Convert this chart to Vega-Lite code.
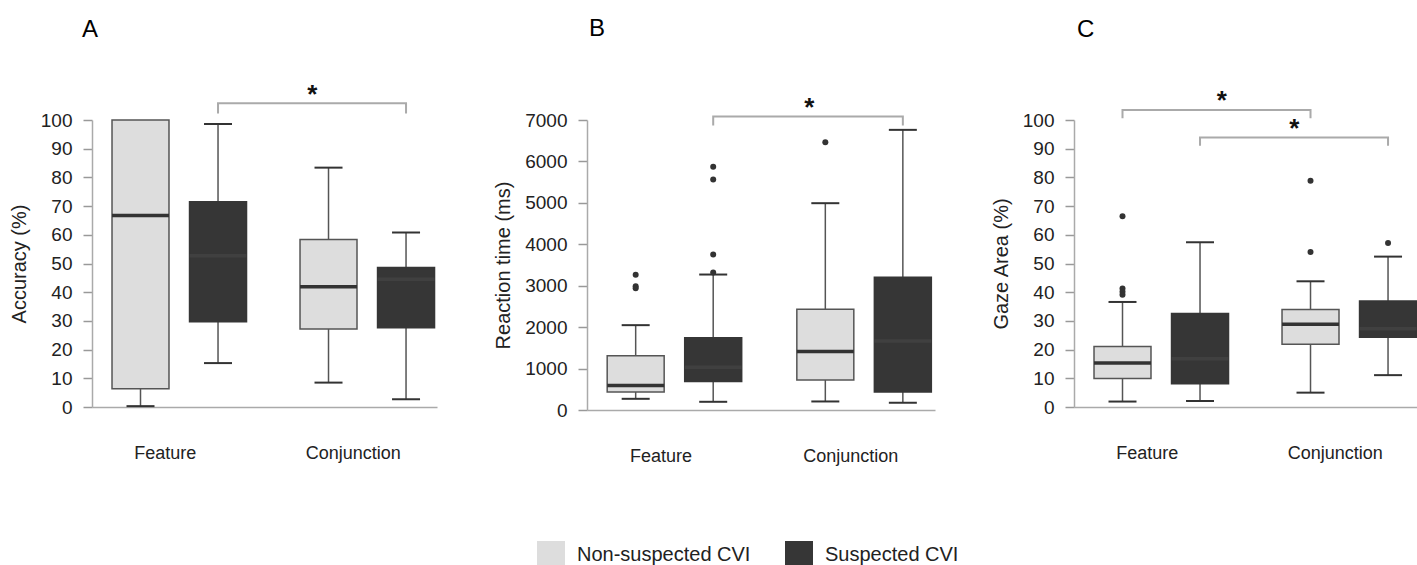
{
  "$schema": "https://vega.github.io/schema/vega-lite/v6.json",
  "padding": {"left": 9, "top": 17, "right": 0, "bottom": 0},
  "background": "white",
  "config": {
    "font": "Liberation Sans",
    "view": {"stroke": null},
    "axis": {"grid": false, "labelColor": "#222", "titleColor": "#222", "titleFontWeight": "normal", "domainColor": "#aaaaaa", "domainWidth": 1.5, "tickColor": "#999999", "tickWidth": 1.5},
    "axisY": {"tickSize": 9, "labelFontSize": 19, "titleFontSize": 20, "titlePadding": 11, "labelPadding": 11, "labelOverlap": false},
    "axisX": {"ticks": false, "labelFontSize": 18, "labelPadding": 37, "labelOffset": -14, "labelAngle": 0, "title": null},
    "title": {"anchor": "start", "frame": "group", "fontSize": 24, "fontWeight": "normal", "color": "#000"}
  },
  "datasets": {
    "boxes": [
      {"panel": "A", "condition": "Feature", "group": "Non-suspected CVI", "lower": 0.3, "q1": 6.4, "median": 66.7, "q3": 100, "upper": 100},
      {"panel": "A", "condition": "Feature", "group": "Suspected CVI", "lower": 15.3, "q1": 29.7, "median": 52.7, "q3": 71.5, "upper": 98.6},
      {"panel": "A", "condition": "Conjunction", "group": "Non-suspected CVI", "lower": 8.5, "q1": 27.2, "median": 41.9, "q3": 58.4, "upper": 83.4},
      {"panel": "A", "condition": "Conjunction", "group": "Suspected CVI", "lower": 2.7, "q1": 27.6, "median": 44.5, "q3": 48.6, "upper": 60.8},
      {"panel": "B", "condition": "Feature", "group": "Non-suspected CVI", "lower": 270, "q1": 437, "median": 590, "q3": 1310, "upper": 2048},
      {"panel": "B", "condition": "Feature", "group": "Suspected CVI", "lower": 198, "q1": 690, "median": 1032, "q3": 1746, "upper": 3270},
      {"panel": "B", "condition": "Conjunction", "group": "Non-suspected CVI", "lower": 206, "q1": 722, "median": 1413, "q3": 2429, "upper": 4992},
      {"panel": "B", "condition": "Conjunction", "group": "Suspected CVI", "lower": 175, "q1": 437, "median": 1667, "q3": 3206, "upper": 6762},
      {"panel": "C", "condition": "Feature", "group": "Non-suspected CVI", "lower": 1.9, "q1": 9.9, "median": 15.3, "q3": 21.1, "upper": 36.6},
      {"panel": "C", "condition": "Feature", "group": "Suspected CVI", "lower": 2.1, "q1": 8.1, "median": 16.8, "q3": 32.6, "upper": 57.4},
      {"panel": "C", "condition": "Conjunction", "group": "Non-suspected CVI", "lower": 5.0, "q1": 21.9, "median": 28.8, "q3": 34.0, "upper": 43.8},
      {"panel": "C", "condition": "Conjunction", "group": "Suspected CVI", "lower": 11.1, "q1": 24.3, "median": 27.3, "q3": 36.9, "upper": 52.4}
    ],
    "outliers": [
      {"panel": "B", "condition": "Feature", "group": "Non-suspected CVI", "value": 3262},
      {"panel": "B", "condition": "Feature", "group": "Non-suspected CVI", "value": 2990},
      {"panel": "B", "condition": "Feature", "group": "Non-suspected CVI", "value": 2940},
      {"panel": "B", "condition": "Feature", "group": "Suspected CVI", "value": 5873},
      {"panel": "B", "condition": "Feature", "group": "Suspected CVI", "value": 5563},
      {"panel": "B", "condition": "Feature", "group": "Suspected CVI", "value": 3754},
      {"panel": "B", "condition": "Feature", "group": "Suspected CVI", "value": 3317},
      {"panel": "B", "condition": "Conjunction", "group": "Non-suspected CVI", "value": 6460},
      {"panel": "C", "condition": "Feature", "group": "Non-suspected CVI", "value": 66.5},
      {"panel": "C", "condition": "Feature", "group": "Non-suspected CVI", "value": 41.3},
      {"panel": "C", "condition": "Feature", "group": "Non-suspected CVI", "value": 40.2},
      {"panel": "C", "condition": "Feature", "group": "Non-suspected CVI", "value": 39.1},
      {"panel": "C", "condition": "Conjunction", "group": "Non-suspected CVI", "value": 78.8},
      {"panel": "C", "condition": "Conjunction", "group": "Non-suspected CVI", "value": 54.0},
      {"panel": "C", "condition": "Conjunction", "group": "Suspected CVI", "value": 57.1}
    ],
    "brackets": [
      {"panel": "A", "id": "a1", "seq": 1, "condition": "Feature", "group": "Suspected CVI", "value": 102.3},
      {"panel": "A", "id": "a1", "seq": 2, "condition": "Feature", "group": "Suspected CVI", "value": 105.8},
      {"panel": "A", "id": "a1", "seq": 3, "condition": "Conjunction", "group": "Suspected CVI", "value": 105.8},
      {"panel": "A", "id": "a1", "seq": 4, "condition": "Conjunction", "group": "Suspected CVI", "value": 102.3},
      {"panel": "B", "id": "b1", "seq": 1, "condition": "Feature", "group": "Suspected CVI", "value": 6865},
      {"panel": "B", "id": "b1", "seq": 2, "condition": "Feature", "group": "Suspected CVI", "value": 7087},
      {"panel": "B", "id": "b1", "seq": 3, "condition": "Conjunction", "group": "Suspected CVI", "value": 7087},
      {"panel": "B", "id": "b1", "seq": 4, "condition": "Conjunction", "group": "Suspected CVI", "value": 6865},
      {"panel": "C", "id": "c1", "seq": 1, "condition": "Feature", "group": "Non-suspected CVI", "value": 100.6},
      {"panel": "C", "id": "c1", "seq": 2, "condition": "Feature", "group": "Non-suspected CVI", "value": 103.5},
      {"panel": "C", "id": "c1", "seq": 3, "condition": "Conjunction", "group": "Non-suspected CVI", "value": 103.5},
      {"panel": "C", "id": "c1", "seq": 4, "condition": "Conjunction", "group": "Non-suspected CVI", "value": 100.6},
      {"panel": "C", "id": "c2", "seq": 1, "condition": "Feature", "group": "Suspected CVI", "value": 91.0},
      {"panel": "C", "id": "c2", "seq": 2, "condition": "Feature", "group": "Suspected CVI", "value": 93.9},
      {"panel": "C", "id": "c2", "seq": 3, "condition": "Conjunction", "group": "Suspected CVI", "value": 93.9},
      {"panel": "C", "id": "c2", "seq": 4, "condition": "Conjunction", "group": "Suspected CVI", "value": 91.0}
    ],
    "stars": [
      {"panel": "A", "condition": "Feature", "group": "Suspected CVI", "value": 106.0, "label": "*"},
      {"panel": "B", "condition": "Feature", "group": "Suspected CVI", "value": 7095, "label": "*"},
      {"panel": "C", "condition": "Feature", "group": "Non-suspected CVI", "value": 103.7, "label": "*"},
      {"panel": "C", "condition": "Feature", "group": "Suspected CVI", "value": 94.1, "label": "*"}
    ]
  },
  "spacing": 56,
  "hconcat": [
    {
      "width": 345, "height": 287,
      "title": {"text": "A", "dx": -10, "offset": 40},
      "layer": [
        {"data": {"name": "boxes"}, "transform": [{"filter": "datum.panel == 'A'"}],
         "mark": {"type": "rule", "color": "#555555", "strokeWidth": 1.5},
         "encoding": {
           "x": {"field": "condition", "type": "nominal", "sort": ["Feature", "Conjunction"], "scale": {"paddingInner": 0.2846, "paddingOuter": 0.0598, "align": 0.89}},
           "xOffset": {"field": "group", "type": "nominal", "scale": {"paddingInner": 0.265, "paddingOuter": 0}},
           "y": {"field": "lower", "type": "quantitative", "scale": {"domain": [0, 100], "nice": false}, "axis": {"values": [0,10,20,30,40,50,60,70,80,90,100], "tickCount": 11, "labelOverlap": false, "title": "Accuracy (%)"}},
           "y2": {"field": "upper"}
         }},
        {"data": {"name": "boxes"}, "transform": [{"filter": "datum.panel == 'A'"}],
         "mark": {"type": "bar", "strokeWidth": 1.5},
         "encoding": {
           "x": {"field": "condition", "type": "nominal", "sort": ["Feature", "Conjunction"]},
           "xOffset": {"field": "group", "type": "nominal"},
           "y": {"field": "q1", "type": "quantitative", "axis": {"values": [0,10,20,30,40,50,60,70,80,90,100], "tickCount": 11, "labelOverlap": false, "title": "Accuracy (%)"}},
           "y2": {"field": "q3"},
           "color": {"field": "group", "type": "nominal", "scale": {"domain": ["Non-suspected CVI", "Suspected CVI"], "range": ["#dddddd", "#363636"]},
             "legend": {"orient": "none", "legendX": 445, "legendY": 421, "padding": 0, "direction": "horizontal", "title": null, "symbolType": "square", "symbolSize": 784, "symbolStrokeWidth": 0, "labelFontSize": 20, "labelLimit": 400, "labelColor": "#222", "labelOffset": 12, "columnPadding": 34}},
           "stroke": {"condition": {"test": "datum.group == 'Suspected CVI'", "value": "#363636"}, "value": "#555555"}
         }},
        {"data": {"name": "boxes"}, "transform": [{"filter": "datum.panel == 'A'"}],
         "mark": {"type": "tick", "thickness": 3.5, "size": 57, "opacity": 1},
         "encoding": {
           "x": {"field": "condition", "type": "nominal", "sort": ["Feature", "Conjunction"]},
           "xOffset": {"field": "group", "type": "nominal"},
           "y": {"field": "median", "type": "quantitative"},
           "color": {"condition": {"test": "datum.group == 'Suspected CVI'", "value": "#404040"}, "value": "#333333"}
         }},
        {"data": {"name": "boxes"}, "transform": [{"filter": "datum.panel == 'A'"}],
         "mark": {"type": "tick", "thickness": 2, "size": 28, "color": "#333333", "opacity": 1},
         "encoding": {
           "x": {"field": "condition", "type": "nominal", "sort": ["Feature", "Conjunction"]},
           "xOffset": {"field": "group", "type": "nominal"},
           "y": {"field": "lower", "type": "quantitative"}
         }},
        {"data": {"name": "boxes"}, "transform": [{"filter": "datum.panel == 'A' && datum.upper > datum.q3"}],
         "mark": {"type": "tick", "thickness": 2, "size": 28, "color": "#333333", "opacity": 1},
         "encoding": {
           "x": {"field": "condition", "type": "nominal", "sort": ["Feature", "Conjunction"]},
           "xOffset": {"field": "group", "type": "nominal"},
           "y": {"field": "upper", "type": "quantitative"}
         }},
        {"data": {"name": "brackets"}, "transform": [{"filter": "datum.panel == 'A'"}],
         "mark": {"type": "line", "color": "#aaaaaa", "strokeWidth": 2, "clip": false},
         "encoding": {
           "x": {"field": "condition", "type": "nominal", "sort": ["Feature", "Conjunction"]},
           "xOffset": {"field": "group", "type": "nominal"},
           "y": {"field": "value", "type": "quantitative"},
           "detail": {"field": "id"},
           "order": {"field": "seq"}
         }},
        {"data": {"name": "stars"}, "transform": [{"filter": "datum.panel == 'A' && datum.group == 'Suspected CVI'"}],
         "mark": {"type": "text", "fontSize": 26, "fontWeight": "bold", "color": "#111", "baseline": "alphabetic", "clip": false},
         "encoding": {
           "x": {"field": "condition", "type": "nominal", "sort": ["Feature", "Conjunction"], "bandPosition": 1.49},
           "y": {"field": "value", "type": "quantitative"},
           "text": {"field": "label"}
         }}
      ]
    },
    {
      "width": 348, "height": 290,
      "title": {"text": "B", "dx": 2, "offset": 54},
      "layer": [
        {"data": {"name": "boxes"}, "transform": [{"filter": "datum.panel == 'B'"}],
         "mark": {"type": "rule", "color": "#555555", "strokeWidth": 1.5},
         "encoding": {
           "x": {"field": "condition", "type": "nominal", "sort": ["Feature", "Conjunction"], "scale": {"paddingInner": 0.2846, "paddingOuter": 0.0598, "align": 0.89}},
           "xOffset": {"field": "group", "type": "nominal", "scale": {"paddingInner": 0.265, "paddingOuter": 0}},
           "y": {"field": "lower", "type": "quantitative", "scale": {"domain": [0, 7000], "nice": false}, "axis": {"values": [0,1000,2000,3000,4000,5000,6000,7000], "tickCount": 8, "format": "d", "labelOverlap": false, "title": "Reaction time (ms)"}},
           "y2": {"field": "upper"}
         }},
        {"data": {"name": "boxes"}, "transform": [{"filter": "datum.panel == 'B'"}],
         "mark": {"type": "bar", "strokeWidth": 1.5},
         "encoding": {
           "x": {"field": "condition", "type": "nominal", "sort": ["Feature", "Conjunction"]},
           "xOffset": {"field": "group", "type": "nominal"},
           "y": {"field": "q1", "type": "quantitative", "axis": {"values": [0,1000,2000,3000,4000,5000,6000,7000], "tickCount": 8, "format": "d", "labelOverlap": false, "title": "Reaction time (ms)"}},
           "y2": {"field": "q3"},
           "color": {"field": "group", "type": "nominal", "scale": {"domain": ["Non-suspected CVI", "Suspected CVI"], "range": ["#dddddd", "#363636"]},
             "legend": {"orient": "none", "legendX": 445, "legendY": 421, "padding": 0, "direction": "horizontal", "title": null, "symbolType": "square", "symbolSize": 784, "symbolStrokeWidth": 0, "labelFontSize": 20, "labelLimit": 400, "labelColor": "#222", "labelOffset": 12, "columnPadding": 34}},
           "stroke": {"condition": {"test": "datum.group == 'Suspected CVI'", "value": "#363636"}, "value": "#555555"}
         }},
        {"data": {"name": "boxes"}, "transform": [{"filter": "datum.panel == 'B'"}],
         "mark": {"type": "tick", "thickness": 3.5, "size": 57, "opacity": 1},
         "encoding": {
           "x": {"field": "condition", "type": "nominal", "sort": ["Feature", "Conjunction"]},
           "xOffset": {"field": "group", "type": "nominal"},
           "y": {"field": "median", "type": "quantitative"},
           "color": {"condition": {"test": "datum.group == 'Suspected CVI'", "value": "#404040"}, "value": "#333333"}
         }},
        {"data": {"name": "boxes"}, "transform": [{"filter": "datum.panel == 'B'"}],
         "mark": {"type": "tick", "thickness": 2, "size": 28, "color": "#333333", "opacity": 1},
         "encoding": {
           "x": {"field": "condition", "type": "nominal", "sort": ["Feature", "Conjunction"]},
           "xOffset": {"field": "group", "type": "nominal"},
           "y": {"field": "lower", "type": "quantitative"}
         }},
        {"data": {"name": "boxes"}, "transform": [{"filter": "datum.panel == 'B' && datum.upper > datum.q3"}],
         "mark": {"type": "tick", "thickness": 2, "size": 28, "color": "#333333", "opacity": 1},
         "encoding": {
           "x": {"field": "condition", "type": "nominal", "sort": ["Feature", "Conjunction"]},
           "xOffset": {"field": "group", "type": "nominal"},
           "y": {"field": "upper", "type": "quantitative"}
         }},
        {"data": {"name": "outliers"}, "transform": [{"filter": "datum.panel == 'B'"}],
         "mark": {"type": "point", "filled": true, "size": 36, "color": "#333333", "opacity": 1},
         "encoding": {
           "x": {"field": "condition", "type": "nominal", "sort": ["Feature", "Conjunction"]},
           "xOffset": {"field": "group", "type": "nominal"},
           "y": {"field": "value", "type": "quantitative"}
         }},
        {"data": {"name": "brackets"}, "transform": [{"filter": "datum.panel == 'B'"}],
         "mark": {"type": "line", "color": "#aaaaaa", "strokeWidth": 2, "clip": false},
         "encoding": {
           "x": {"field": "condition", "type": "nominal", "sort": ["Feature", "Conjunction"]},
           "xOffset": {"field": "group", "type": "nominal"},
           "y": {"field": "value", "type": "quantitative"},
           "detail": {"field": "id"},
           "order": {"field": "seq"}
         }},
        {"data": {"name": "stars"}, "transform": [{"filter": "datum.panel == 'B' && datum.group == 'Suspected CVI'"}],
         "mark": {"type": "text", "fontSize": 26, "fontWeight": "bold", "color": "#111", "baseline": "alphabetic", "clip": false},
         "encoding": {
           "x": {"field": "condition", "type": "nominal", "sort": ["Feature", "Conjunction"], "bandPosition": 1.49},
           "y": {"field": "value", "type": "quantitative"},
           "text": {"field": "label"}
         }}
      ]
    },
    {
      "width": 345, "height": 287,
      "title": {"text": "C", "dx": 3, "offset": 46},
      "layer": [
        {"data": {"name": "boxes"}, "transform": [{"filter": "datum.panel == 'C'"}],
         "mark": {"type": "rule", "color": "#555555", "strokeWidth": 1.5},
         "encoding": {
           "x": {"field": "condition", "type": "nominal", "sort": ["Feature", "Conjunction"], "scale": {"paddingInner": 0.2846, "paddingOuter": 0.0598, "align": 0.89}},
           "xOffset": {"field": "group", "type": "nominal", "scale": {"paddingInner": 0.265, "paddingOuter": 0}},
           "y": {"field": "lower", "type": "quantitative", "scale": {"domain": [0, 100], "nice": false}, "axis": {"values": [0,10,20,30,40,50,60,70,80,90,100], "tickCount": 11, "labelOverlap": false, "title": "Gaze Area (%)"}},
           "y2": {"field": "upper"}
         }},
        {"data": {"name": "boxes"}, "transform": [{"filter": "datum.panel == 'C'"}],
         "mark": {"type": "bar", "strokeWidth": 1.5},
         "encoding": {
           "x": {"field": "condition", "type": "nominal", "sort": ["Feature", "Conjunction"]},
           "xOffset": {"field": "group", "type": "nominal"},
           "y": {"field": "q1", "type": "quantitative", "axis": {"values": [0,10,20,30,40,50,60,70,80,90,100], "tickCount": 11, "labelOverlap": false, "title": "Gaze Area (%)"}},
           "y2": {"field": "q3"},
           "color": {"field": "group", "type": "nominal", "scale": {"domain": ["Non-suspected CVI", "Suspected CVI"], "range": ["#dddddd", "#363636"]},
             "legend": {"orient": "none", "legendX": 445, "legendY": 421, "padding": 0, "direction": "horizontal", "title": null, "symbolType": "square", "symbolSize": 784, "symbolStrokeWidth": 0, "labelFontSize": 20, "labelLimit": 400, "labelColor": "#222", "labelOffset": 12, "columnPadding": 34}},
           "stroke": {"condition": {"test": "datum.group == 'Suspected CVI'", "value": "#363636"}, "value": "#555555"}
         }},
        {"data": {"name": "boxes"}, "transform": [{"filter": "datum.panel == 'C'"}],
         "mark": {"type": "tick", "thickness": 3.5, "size": 57, "opacity": 1},
         "encoding": {
           "x": {"field": "condition", "type": "nominal", "sort": ["Feature", "Conjunction"]},
           "xOffset": {"field": "group", "type": "nominal"},
           "y": {"field": "median", "type": "quantitative"},
           "color": {"condition": {"test": "datum.group == 'Suspected CVI'", "value": "#404040"}, "value": "#333333"}
         }},
        {"data": {"name": "boxes"}, "transform": [{"filter": "datum.panel == 'C'"}],
         "mark": {"type": "tick", "thickness": 2, "size": 28, "color": "#333333", "opacity": 1},
         "encoding": {
           "x": {"field": "condition", "type": "nominal", "sort": ["Feature", "Conjunction"]},
           "xOffset": {"field": "group", "type": "nominal"},
           "y": {"field": "lower", "type": "quantitative"}
         }},
        {"data": {"name": "boxes"}, "transform": [{"filter": "datum.panel == 'C' && datum.upper > datum.q3"}],
         "mark": {"type": "tick", "thickness": 2, "size": 28, "color": "#333333", "opacity": 1},
         "encoding": {
           "x": {"field": "condition", "type": "nominal", "sort": ["Feature", "Conjunction"]},
           "xOffset": {"field": "group", "type": "nominal"},
           "y": {"field": "upper", "type": "quantitative"}
         }},
        {"data": {"name": "outliers"}, "transform": [{"filter": "datum.panel == 'C'"}],
         "mark": {"type": "point", "filled": true, "size": 36, "color": "#333333", "opacity": 1},
         "encoding": {
           "x": {"field": "condition", "type": "nominal", "sort": ["Feature", "Conjunction"]},
           "xOffset": {"field": "group", "type": "nominal"},
           "y": {"field": "value", "type": "quantitative"}
         }},
        {"data": {"name": "brackets"}, "transform": [{"filter": "datum.panel == 'C'"}],
         "mark": {"type": "line", "color": "#aaaaaa", "strokeWidth": 2, "clip": false},
         "encoding": {
           "x": {"field": "condition", "type": "nominal", "sort": ["Feature", "Conjunction"]},
           "xOffset": {"field": "group", "type": "nominal"},
           "y": {"field": "value", "type": "quantitative"},
           "detail": {"field": "id"},
           "order": {"field": "seq"}
         }},
        {"data": {"name": "stars"}, "transform": [{"filter": "datum.panel == 'C' && datum.group == 'Suspected CVI'"}],
         "mark": {"type": "text", "fontSize": 26, "fontWeight": "bold", "color": "#111", "baseline": "alphabetic", "clip": false},
         "encoding": {
           "x": {"field": "condition", "type": "nominal", "sort": ["Feature", "Conjunction"], "bandPosition": 1.49},
           "y": {"field": "value", "type": "quantitative"},
           "text": {"field": "label"}
         }},
        {"data": {"name": "stars"}, "transform": [{"filter": "datum.panel == 'C' && datum.group == 'Non-suspected CVI'"}],
         "mark": {"type": "text", "fontSize": 26, "fontWeight": "bold", "color": "#111", "baseline": "alphabetic", "clip": false},
         "encoding": {
           "x": {"field": "condition", "type": "nominal", "sort": ["Feature", "Conjunction"], "bandPosition": 0.95},
           "y": {"field": "value", "type": "quantitative"},
           "text": {"field": "label"}
         }}
      ]
    }
  ]
}
